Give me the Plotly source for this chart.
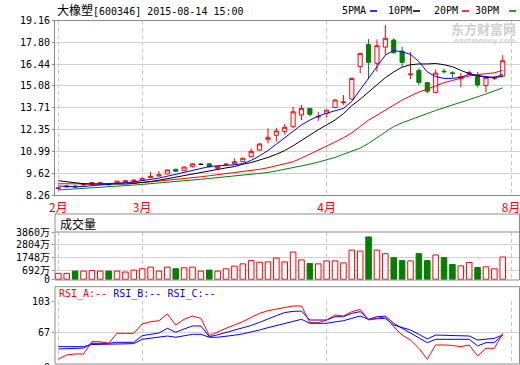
import plotly.graph_objects as go

# ---------------- data ----------------
month_labels = ["2月", "3月", "4月", "8月"]
month_pos = [0, 10, 32, 54]

day_index = list(range(54))

opens = [8.68, 8.78, 8.84, 8.90, 8.96, 8.98, 8.98, 9.02, 9.10, 9.14,
         9.20, 9.36, 9.46, 9.59, 9.88, 9.79, 10.04, 10.19, 10.22, 9.94,
         10.17, 10.22, 10.36, 10.67, 11.08, 11.75, 12.00, 12.23, 12.54, 13.27,
         13.68, 13.14, 13.37, 13.73, 14.04, 14.26, 16.30, 17.67, 16.49, 17.50,
         17.94, 17.25, 15.78, 16.05, 15.29, 14.67, 16.00, 15.90, 15.52, 15.84,
         15.75, 15.10, 15.55, 15.70]
highs = [8.78, 8.90, 8.88, 9.00, 9.08, 9.08, 9.00, 9.18, 9.20, 9.24,
         9.38, 9.73, 9.77, 9.88, 9.92, 10.06, 10.26, 10.24, 10.28, 10.08,
         10.26, 10.57, 10.62, 11.19, 11.50, 12.44, 12.47, 12.72, 13.78, 13.89,
         13.70, 13.47, 13.62, 14.26, 14.51, 15.60, 17.13, 18.00, 17.98, 18.88,
         18.05, 17.52, 17.20, 16.18, 15.30, 16.10, 16.15, 16.00, 15.88, 16.02,
         15.95, 15.64, 15.70, 17.00]
lows = [8.62, 8.74, 8.74, 8.86, 8.94, 8.95, 8.90, 8.99, 9.08, 9.10,
        9.18, 9.34, 9.44, 9.56, 9.74, 9.76, 10.00, 10.14, 10.00, 9.90,
        10.12, 10.20, 10.32, 10.64, 11.04, 11.50, 11.60, 12.04, 12.44, 12.95,
        13.20, 12.89, 13.10, 13.70, 13.90, 14.24, 15.87, 15.50, 15.97, 17.05,
        17.10, 16.28, 15.50, 15.13, 14.62, 14.66, 15.85, 15.60, 15.00, 15.74,
        14.99, 14.68, 15.45, 15.65]
closes = [8.72, 8.84, 8.78, 8.96, 9.05, 9.04, 8.92, 9.14, 9.16, 9.20,
          9.30, 9.44, 9.54, 9.84, 9.76, 10.02, 10.22, 10.19, 10.04, 10.06,
          10.20, 10.35, 10.57, 11.00, 11.46, 11.88, 12.27, 12.50, 13.47, 13.68,
          13.31, 13.18, 13.57, 14.20, 14.08, 15.55, 17.11, 16.55, 17.59, 18.05,
          17.15, 16.55, 15.82, 15.30, 14.75, 15.88, 15.97, 15.86, 15.66, 15.90,
          15.14, 15.62, 15.59, 16.65]

ma5 = [8.84, 8.80, 8.79, 8.81, 8.85, 8.89, 8.93, 8.99, 9.05, 9.10,
       9.17, 9.25, 9.33, 9.45, 9.57, 9.67, 9.82, 9.95, 10.05, 10.10,
       10.13, 10.16, 10.24, 10.44, 10.72, 11.05, 11.45, 11.85, 12.25, 12.65,
       12.95, 13.20, 13.38, 13.55, 13.68, 14.12, 14.85, 15.50, 16.30, 17.00,
       17.30, 17.20, 17.05, 16.60, 15.95, 15.66, 15.55, 15.55, 15.62, 15.80,
       15.72, 15.64, 15.60, 15.80]
ma10 = [9.17, 9.10, 9.03, 8.98, 8.96, 8.95, 8.95, 8.95, 8.96, 9.00,
        9.05, 9.12, 9.20, 9.30, 9.40, 9.50, 9.60, 9.70, 9.78, 9.88,
        9.97, 10.05, 10.20, 10.30, 10.45, 10.62, 10.82, 11.05, 11.35, 11.70,
        12.05, 12.35, 12.65, 12.95, 13.35, 13.85, 14.25, 14.70, 15.15, 15.60,
        15.95, 16.25, 16.40, 16.45, 16.45, 16.48, 16.40, 16.28, 16.05, 15.85,
        15.72, 15.62, 15.62, 15.66]
ma20 = [8.98, 8.97, 8.96, 8.96, 8.97, 8.98, 8.99, 9.00, 9.02, 9.04,
        9.06, 9.10, 9.15, 9.19, 9.22, 9.28, 9.35, 9.41, 9.48, 9.54,
        9.60, 9.67, 9.74, 9.81, 9.88, 9.98, 10.10, 10.22, 10.35, 10.58,
        10.82, 11.08, 11.33, 11.58, 11.85, 12.15, 12.55, 12.95, 13.25, 13.58,
        13.89, 14.20, 14.45, 14.70, 14.88, 15.08, 15.28, 15.42, 15.58, 15.70,
        15.78, 15.84, 15.90, 16.05]
ma30 = [8.59, 8.62, 8.65, 8.68, 8.71, 8.75, 8.79, 8.83, 8.87, 8.90,
        8.94, 8.98, 9.02, 9.06, 9.12, 9.16, 9.21, 9.26, 9.31, 9.36,
        9.41, 9.46, 9.50, 9.55, 9.60, 9.68, 9.78, 9.88, 9.96, 10.08,
        10.20, 10.33, 10.46, 10.62, 10.82, 11.00, 11.20, 11.50, 11.85, 12.20,
        12.55, 12.78, 12.98, 13.17, 13.36, 13.55, 13.72, 13.88, 14.05, 14.22,
        14.40, 14.58, 14.77, 14.96]

volume = [482, 482, 667, 667, 723, 667, 667, 667, 590, 750,
          857, 991, 667, 991, 857, 938, 991, 667, 750, 667,
          857, 1072, 1259, 1527, 1393, 1420, 1741, 1420, 2223, 1580,
          1286, 1259, 1500, 1500, 1340, 2384, 2304, 3457, 2384, 2090,
          1769, 1527, 1500, 2090, 1527, 1983, 1769, 1206, 1099, 1367,
          965, 1018, 857, 1822]

rsi_a = [37.4, 42.3, 43.4, 43.4, 57.2, 57.2, 55.4, 66.6, 66.6, 66.6,
         77.1, 79.7, 80.8, 88.4, 76.0, 82.4, 86.1, 83.5, 64.0, 68.5,
         72.3, 76.0, 79.7, 84.6, 89.1, 92.1, 94.0, 95.9, 97.4, 97.4,
         78.6, 78.6, 81.6, 87.2, 86.1, 91.0, 93.6, 81.6, 83.5, 85.3,
         74.1, 64.7, 59.1, 49.8, 37.5, 53.5, 53.5, 53.0, 51.6, 53.5,
         41.1, 49.8, 49.8, 66.6]
rsi_b = [49.0, 49.3, 49.6, 50.0, 55.4, 55.4, 55.4, 56.5, 56.5, 56.5,
         64.0, 65.5, 67.0, 72.3, 67.8, 71.5, 74.9, 74.9, 62.8, 65.0,
         67.5, 70.0, 72.5, 75.5, 79.0, 83.0, 86.5, 90.0, 91.3, 91.7,
         81.6, 81.6, 81.6, 85.3, 85.3, 89.1, 91.0, 82.4, 85.3, 86.0,
         77.9, 72.3, 66.6, 61.0, 56.1, 59.9, 59.9, 59.9, 59.9, 59.9,
         52.4, 56.1, 56.1, 64.7]
rsi_c = [51.6, 51.6, 51.6, 51.6, 54.0, 54.3, 54.6, 55.0, 55.0, 55.0,
         59.9, 61.0, 62.0, 63.6, 62.2, 64.0, 65.5, 65.5, 62.2, 62.2,
         63.0, 64.5, 66.0, 68.0, 70.4, 73.0, 75.5, 78.0, 80.0, 82.4,
         77.9, 77.9, 77.9, 79.5, 80.8, 83.5, 86.1, 82.4, 83.0, 83.5,
         76.0, 73.0, 70.4, 65.5, 60.3, 64.7, 64.3, 64.0, 63.8, 63.6,
         59.1, 59.9, 61.0, 64.7]

price_ticks = [8.26, 9.62, 10.99, 12.35, 13.71, 15.08, 16.44, 17.80, 19.16]
vol_ticks = [0, 692, 1748, 2804, 3860]
vol_tick_text = ["0", "692万", "1748万", "2804万", "3860万"]
rsi_ticks = [67, 103]

# ---------------- style ----------------
W, H = 520, 365
RED, GREEN, BLUE = "#ff0000", "#008000", "#0000ff"
FRAME, GRID, VGRID = "#8c8c8c", "#d2d2d2", "#c8c8c8"
MONO = "DejaVu Sans Mono, Noto Sans CJK SC"
CJK = "Noto Sans CJK SC"


def X(px):
    return px / W


def Y(py):
    return 1 - py / H


xdom = [X(55), X(519.5)]
xrange_ = [-0.4, 55.0]

fig = go.Figure()

flat = [i for i in day_index if opens[i] == closes[i]]
norm = [i for i in day_index if opens[i] != closes[i]]


def pick(arr, ids):
    return [arr[i] for i in ids]


fig.add_trace(go.Candlestick(
    x=norm, open=pick(opens, norm), high=pick(highs, norm),
    low=pick(lows, norm), close=pick(closes, norm),
    increasing=dict(line=dict(color=RED, width=1), fillcolor="#ffffff"),
    decreasing=dict(line=dict(color=GREEN, width=1), fillcolor=GREEN),
    whiskerwidth=0, xaxis="x", yaxis="y", showlegend=False, hoverinfo="skip"))
fig.add_trace(go.Candlestick(
    x=flat, open=pick(opens, flat), high=pick(highs, flat),
    low=pick(lows, flat), close=pick(closes, flat),
    increasing=dict(line=dict(color="#000000", width=1), fillcolor="#000000"),
    decreasing=dict(line=dict(color="#000000", width=1), fillcolor="#000000"),
    whiskerwidth=0, xaxis="x", yaxis="y", showlegend=False, hoverinfo="skip"))

for series, col in [(ma30, GREEN), (ma20, RED), (ma10, "#000000"), (ma5, BLUE)]:
    fig.add_trace(go.Scatter(x=day_index, y=series, mode="lines",
                             line=dict(color=col, width=1),
                             xaxis="x", yaxis="y", showlegend=False,
                             hoverinfo="skip"))

up = [closes[i] >= opens[i] for i in day_index]
fig.add_trace(go.Bar(
    x=day_index, y=volume, width=0.66,
    marker=dict(color=["#ffffff" if u else GREEN for u in up],
                line=dict(color=[RED if u else GREEN for u in up], width=1)),
    xaxis="x2", yaxis="y2", showlegend=False, hoverinfo="skip"))

for series, col in [(rsi_c, BLUE), (rsi_b, BLUE), (rsi_a, RED)]:
    fig.add_trace(go.Scatter(x=day_index, y=series, mode="lines",
                             line=dict(color=col, width=1),
                             xaxis="x3", yaxis="y3", showlegend=False,
                             hoverinfo="skip"))

common_x = dict(range=xrange_, domain=xdom, tickmode="array",
                tickvals=month_pos, showgrid=True, gridcolor=VGRID,
                griddash="4px,3px", gridwidth=1, zeroline=False,
                fixedrange=True, automargin=False)

fig.update_layout(
    width=W, height=H, margin=dict(l=0, r=0, t=0, b=0, pad=0),
    paper_bgcolor="#ffffff", plot_bgcolor="#ffffff",
    xaxis=dict(**common_x, anchor="y", ticktext=month_labels,
               tickfont=dict(family=CJK, size=12, color=RED),
               showline=True, mirror=True, linecolor=FRAME, ticks="",
               ticklabelstandoff=1, ticklabeloverflow="allow",
               rangeslider=dict(visible=False)),
    yaxis=dict(domain=[Y(195.3), Y(20.5)], range=[8.26, 19.16],
               tickmode="array", tickvals=price_ticks,
               ticktext=["%.2f" % v for v in price_ticks],
               tickfont=dict(family=MONO, size=10, color="#000000"),
               showgrid=True, gridcolor=GRID, zeroline=False,
               showline=True, mirror=True, linecolor=FRAME,
               ticks="outside", ticklen=2, tickcolor=FRAME, fixedrange=True,
               automargin=False),
    xaxis2=dict(**common_x, anchor="y2", showticklabels=False,
                showline=False),
    yaxis2=dict(domain=[Y(280), Y(232)], range=[-60, 3860],
                tickmode="array", tickvals=vol_ticks, ticktext=vol_tick_text,
                tickfont=dict(family=MONO, size=10, color="#000000"),
                showgrid=True, gridcolor=GRID, zeroline=False,
                showline=False, ticks="outside", ticklen=2, tickcolor=FRAME,
                fixedrange=True, automargin=False),
    xaxis3=dict(**common_x, anchor="y3", showticklabels=False,
                showline=False),
    yaxis3=dict(domain=[Y(364), Y(301)], range=[32.1, 103],
                tickmode="array", tickvals=rsi_ticks,
                ticktext=[str(v) for v in rsi_ticks],
                tickfont=dict(family=MONO, size=10, color="#000000"),
                showgrid=True, gridcolor=GRID, zeroline=False,
                showline=False, ticks="outside", ticklen=2, tickcolor=FRAME,
                fixedrange=True, automargin=False),
    bargap=0,
)

shapes = []
# panel frames
shapes.append(dict(type="rect", xref="paper", yref="paper",
                   x0=X(55), x1=X(519.5), y0=Y(280), y1=Y(214),
                   line=dict(color=FRAME, width=1)))
shapes.append(dict(type="line", xref="paper", yref="paper",
                   x0=X(55), x1=X(519.5), y0=Y(232), y1=Y(232),
                   line=dict(color=FRAME, width=1)))
shapes.append(dict(type="rect", xref="paper", yref="paper",
                   x0=X(55), x1=X(519.5), y0=Y(364), y1=Y(286.7),
                   line=dict(color=FRAME, width=1)))
# MA legend dashes
for x0, col in [(370, BLUE), (413, "#000000"), (462, RED), (509, GREEN)]:
    shapes.append(dict(type="line", xref="paper", yref="paper",
                       x0=X(x0), x1=X(x0 + 7), y0=Y(11), y1=Y(11),
                       line=dict(color=col, width=1.6)))
fig.update_layout(shapes=shapes)

ann = []
ann.append(dict(xref="paper", yref="paper", x=X(55), y=Y(11),
                xanchor="left", yanchor="middle", showarrow=False,
                text='<span style="font-size:12px">大橡塑</span>[600346] 2015-08-14 15:00',
                font=dict(family=MONO, size=10, color="#000000")))
for px, txt in [(340, "5PMA"), (386, "10PM"), (432, "20PM"), (473, "30PM")]:
    ann.append(dict(xref="paper", yref="paper", x=X(px), y=Y(11),
                    xanchor="left", yanchor="middle", showarrow=False,
                    text=txt, font=dict(family=MONO, size=10, color="#000000")))
ann.append(dict(xref="paper", yref="paper", x=X(58), y=Y(223),
                xanchor="left", yanchor="middle", showarrow=False,
                text="成交量", font=dict(family=CJK, size=12, color="#000000")))
ann.append(dict(xref="paper", yref="paper", x=X(57), y=Y(294),
                xanchor="left", yanchor="middle", showarrow=False,
                text='<span style="color:#ff0000">RSI_A:--</span> '
                     '<span style="color:#0000ff">RSI_B:--</span> '
                     '<span style="color:#0000ff">RSI_C:--</span>',
                font=dict(family=MONO, size=10, color="#000000")))
ann.append(dict(xref="paper", yref="paper", x=X(52), y=Y(367),
                xanchor="right", yanchor="middle", showarrow=False,
                text="0", font=dict(family=MONO, size=10, color="#000000")))
# watermark
ann.append(dict(xref="paper", yref="paper", x=X(518), y=Y(28),
                xanchor="right", yanchor="middle", showarrow=False,
                text="<b>东方财富网</b>",
                font=dict(family=CJK, size=13, color="#cfcfcf")))
ann.append(dict(xref="paper", yref="paper", x=X(518), y=Y(41),
                xanchor="right", yanchor="middle", showarrow=False,
                text="<b>eastmoney.com</b>",
                font=dict(family="DejaVu Sans", size=7, color="#d5d5d5")))
fig.update_layout(annotations=ann)

fig.write_html(
    "out.html",
    config={"displayModeBar": False, "staticPlot": True},
    post_script="document.body.style.margin='0';"
                "document.body.style.overflow='hidden';")
